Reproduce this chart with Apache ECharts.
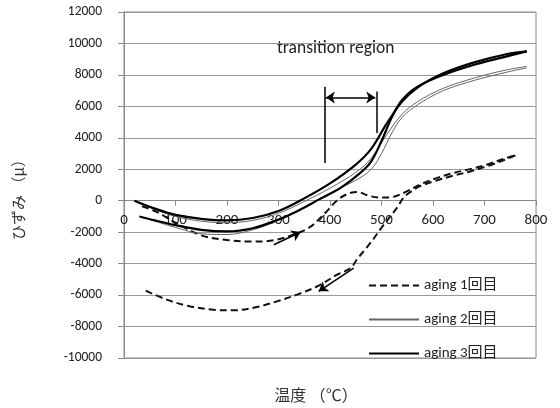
<!DOCTYPE html>
<html>
<head>
<meta charset="utf-8">
<script src="https://cdn.jsdelivr.net/npm/echarts@6/dist/echarts.min.js"></script>
<style>
  html, body { margin: 0; padding: 0; background: #fff; }
  #chart { width: 560px; height: 408px; }
</style>
</head>
<body>
<div id="chart"></div>
<script>
// Temperature (°C) and strain (μ) readings for each aging run, heating then cooling
const aging1HeatT = [35, 63, 100, 150, 200, 250, 275, 300, 330, 360, 390, 413, 432, 452, 477, 500, 520, 549, 574, 607, 639, 672, 704, 736, 760];
const aging1HeatS = [-350, -700, -1400, -2200, -2500, -2600, -2580, -2450, -2150, -1700, -800, 0, 400, 560, 300, 200, 230, 590, 1020, 1440, 1760, 2010, 2290, 2650, 2880];
const aging1CoolT = [760, 736, 704, 672, 639, 607, 574, 555, 542, 532, 519, 498, 485, 472, 453, 440, 414, 378, 336, 297, 258, 213, 174, 129, 83, 35];
const aging1CoolS = [2880, 2560, 2180, 1860, 1590, 1290, 910, 530, 170, -360, -920, -1800, -2400, -2950, -3700, -4280, -4700, -5400, -5970, -6400, -6760, -6970, -6930, -6720, -6290, -5610];

const aging2HeatT = [25, 60, 100, 150, 200, 250, 300, 350, 400, 450, 480, 510, 540, 570, 620, 680, 740, 782];
const aging2HeatS = [-100, -550, -1000, -1300, -1400, -1250, -800, -50, 800, 1800, 2700, 4200, 5500, 6300, 7150, 7800, 8300, 8540];
const aging2CoolT = [782, 740, 680, 620, 570, 540, 520, 500, 480, 450, 400, 350, 300, 250, 200, 150, 100, 60, 30];
const aging2CoolS = [8450, 8150, 7650, 7000, 6100, 5300, 4300, 3000, 2000, 1300, 500, -450, -1250, -1850, -2150, -2100, -1700, -1300, -1000];

const aging3HeatT = [20, 60, 100, 150, 200, 250, 300, 350, 400, 450, 480, 510, 540, 570, 620, 680, 740, 782];
const aging3HeatS = [0, -500, -900, -1150, -1250, -1100, -650, 150, 1100, 2300, 3300, 4900, 6300, 7200, 8100, 8800, 9300, 9500];
const aging3CoolT = [782, 740, 680, 620, 570, 540, 520, 500, 480, 460, 420, 380, 340, 300, 250, 200, 150, 100, 60, 30];
const aging3CoolS = [9500, 9150, 8650, 8000, 7250, 6400, 5300, 3800, 2500, 1800, 800, 100, -600, -1200, -1750, -1950, -1850, -1550, -1250, -1000];

const seriesNames = ['aging 1回目', 'aging 2回目', 'aging 3回目'];

// Transition region bounds (°C) and annotation heights (μ)
const transitionLow = 390;
const transitionHigh = 490;
const transitionArrowY = 6560;

const latin = "Carlito, Lato, 'Noto Sans CJK JP', sans-serif";
const cjk = "'Noto Sans CJK JP', sans-serif";

const styles = [
  { color: '#111', width: 2, type: [7, 4] },
  { color: '#666', width: 1, type: 'solid' },
  { color: '#000', width: 2.2, type: 'solid' }
];

function pairs(t, s) { return t.map((x, i) => [x, s[i]]); }

function curve(idx, t, s, extra) {
  const st = styles[idx];
  return Object.assign({
    type: 'line',
    name: seriesNames[idx],
    data: pairs(t, s),
    symbol: 'none',
    smooth: 0.35,
    color: st.color,
    lineStyle: { color: st.color, width: st.width, type: st.type },
    emphasis: { disabled: true },
    silent: true
  }, extra || {});
}

const annotations = {
  silent: true,
  symbol: ['none', 'none'],
  symbolSize: 9,
  label: { show: false },
  emphasis: { disabled: true },
  lineStyle: { color: '#000', width: 1.5, type: 'solid' },
  data: [
    [{ coord: [transitionLow, 7240] }, { coord: [transitionLow, 2400] }],
    [{ coord: [transitionHigh, 6950] }, { coord: [transitionHigh, 4300] }],
    [{ coord: [transitionLow + 2, transitionArrowY], symbol: 'arrow' }, { coord: [transitionHigh - 2, transitionArrowY], symbol: 'arrow' }],
    [{ coord: [291, -2800] }, { coord: [343, -1990], symbol: 'arrow' }],
    [{ coord: [446, -4280] }, { coord: [378, -5760], symbol: 'arrow' }]
  ]
};

const chart = echarts.init(document.getElementById('chart'), null, { renderer: 'canvas' });
chart.setOption({
  animation: false,
  backgroundColor: '#fff',
  grid: { left: 124, right: 24, top: 12, bottom: 50, show: true, borderColor: '#888', borderWidth: 1 },
  xAxis: {
    type: 'value', min: 0, max: 800, interval: 100,
    axisLine: { onZero: false, lineStyle: { color: '#888', width: 1 } },
    axisTick: { show: true, length: 5, lineStyle: { color: '#888' } },
    axisLabel: { color: '#222', fontFamily: latin, fontSize: 15, margin: 12 },
    splitLine: { show: false }
  },
  yAxis: {
    type: 'value', min: -10000, max: 12000, interval: 2000,
    axisLine: { show: true, onZero: false, lineStyle: { color: '#888', width: 1 } },
    axisTick: { show: true, length: 6, lineStyle: { color: '#888' } },
    axisLabel: { color: '#222', fontFamily: latin, fontSize: 13.5, margin: 22, formatter: v => String(v) },
    splitLine: { show: true, lineStyle: { color: '#999', width: 1 } }
  },
  legend: {
    orient: 'vertical', left: 363, top: 273,
    itemWidth: 50, itemHeight: 14, itemGap: 19, itemTextGap: 7,
    data: seriesNames,
    itemStyle: { color: 'rgba(0,0,0,0)', borderWidth: 0, opacity: 0 },
    textStyle: { color: '#222', fontFamily: latin, fontSize: 15 },
    selectedMode: false
  },
  graphic: [
    { type: 'text', x: 277, y: 49, style: { text: 'transition region', font: '17.5px ' + latin, fill: '#222', textVerticalAlign: 'middle' } },
    { type: 'text', x: 18, y: 196, rotation: Math.PI / 2, style: { text: 'ひずみ （μ）', font: '15px ' + cjk, fill: '#333', textAlign: 'center', textVerticalAlign: 'middle' } },
    { type: 'text', x: 316, y: 395, style: { text: '温度 （℃）', font: '16px ' + cjk, fill: '#333', textAlign: 'center', textVerticalAlign: 'middle' } }
  ],
  series: [
    curve(0, aging1HeatT, aging1HeatS, { markLine: annotations }),
    curve(0, aging1CoolT, aging1CoolS),
    curve(1, aging2HeatT, aging2HeatS),
    curve(1, aging2CoolT, aging2CoolS),
    curve(2, aging3HeatT, aging3HeatS),
    curve(2, aging3CoolT, aging3CoolS)
  ]
});

// Lift the temperature axis (line, ticks and labels) onto the zero-strain line
const zeroPx = chart.convertToPixel({ gridIndex: 0 }, [0, 0])[1];
const floorPx = chart.convertToPixel({ gridIndex: 0 }, [0, -10000])[1];
chart.setOption({ xAxis: { offset: zeroPx - floorPx } });
</script>
</body>
</html>
